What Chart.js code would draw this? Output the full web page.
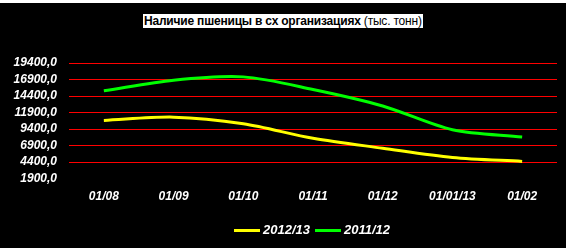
<!DOCTYPE html>
<html>
<head>
<meta charset="utf-8">
<script src="https://cdn.jsdelivr.net/npm/chart.js@4/dist/chart.umd.min.js"></script>
<style>
    html, body { margin: 0; padding: 0; background: #000; }
    #wrap { position: relative; width: 566px; height: 248px; overflow: hidden; }
    #topline { position: absolute; left: 0; top: 0; width: 566px; height: 3px; background: #fff; }
    #title {
        position: absolute; left: 143px; top: 14px; height: 14px;
        background: #fff; color: #000; padding: 0 1px;
        font: 12px "Liberation Sans", Arial, sans-serif; line-height: 14px;
        letter-spacing: -0.2px; white-space: nowrap;
    }
    #title b { font-weight: bold; }
    .leg {
        position: absolute; top: 222px; height: 16px; line-height: 16px;
        color: #fff; font: italic bold 13px "Liberation Sans", Arial, sans-serif; white-space: nowrap;
    }
    .leg i { display: inline-block; width: 26px; height: 3px; vertical-align: middle; margin-right: 3px; }
    canvas { position: absolute; left: 0; top: 0; }
</style>
</head>
<body>
<div id="wrap">
    <canvas id="chart" width="566" height="248"></canvas>
    <div id="topline"></div>
    <div id="title"><b>Наличие пшеницы в сх организациях</b> (тыс. тонн)</div>
    <div class="leg" style="left:234px"><i style="background:#ffff00"></i>2012/13</div>
    <div class="leg" style="left:315px"><i style="background:#00ff00"></i>2011/12</div>
</div>
<script>
// данные
const months = ["01/08", "01/09", "01/10", "01/11", "01/12", "01/01/13", "01/02"];
const wheat2012 = [10700, 11200, 10200, 8000, 6500, 5100, 4500];
const wheat2011 = [15200, 16800, 17300, 15400, 12900, 9300, 8200];

// ось Y
const yMin = 1900;
const yMax = 19400;
const yStep = 2500;

const fontFamily = '"Liberation Sans", Arial, sans-serif';

new Chart(document.getElementById("chart").getContext("2d"), {
    type: "line",
    data: {
        labels: months,
        datasets: [
            {
                label: "2012/13",
                data: wheat2012,
                borderColor: "#ffff00",
                backgroundColor: "#ffff00",
                borderWidth: 3,
                pointRadius: 0,
                tension: 0.3,
                fill: false
            },
            {
                label: "2011/12",
                data: wheat2011,
                borderColor: "#00ff00",
                backgroundColor: "#00ff00",
                borderWidth: 3,
                pointRadius: 0,
                tension: 0.3,
                fill: false
            }
        ]
    },
    options: {
        responsive: false,
        animation: false,
        layout: { padding: { top: 63, right: 9, bottom: 33, left: 0 } },
        plugins: {
            title: { display: false },
            tooltip: { enabled: false },
            legend: { display: false }
        },
        scales: {
            x: {
                offset: true,
                grid: { display: false, drawTicks: false },
                border: { display: false },
                ticks: {
                    color: "#fff",
                    padding: 11,
                    maxRotation: 0,
                    autoSkip: false,
                    font: { family: fontFamily, size: 12, weight: "bold", style: "italic" }
                }
            },
            y: {
                min: yMin,
                max: yMax,
                afterFit: scale => { scale.width = 69; },
                grid: {
                    drawTicks: false,
                    color: ctx => (ctx.tick && ctx.tick.value === yMin ? "rgba(0,0,0,0)" : "#ff0000"),
                    lineWidth: 1
                },
                border: { display: false },
                ticks: {
                    stepSize: yStep,
                    autoSkip: false,
                    color: "#fff",
                    padding: 12,
                    font: { family: fontFamily, size: 12, weight: "bold", style: "italic" },
                    callback: v => v.toFixed(1).replace(".", ",")
                }
            }
        }
    }
});
</script>
</body>
</html>
